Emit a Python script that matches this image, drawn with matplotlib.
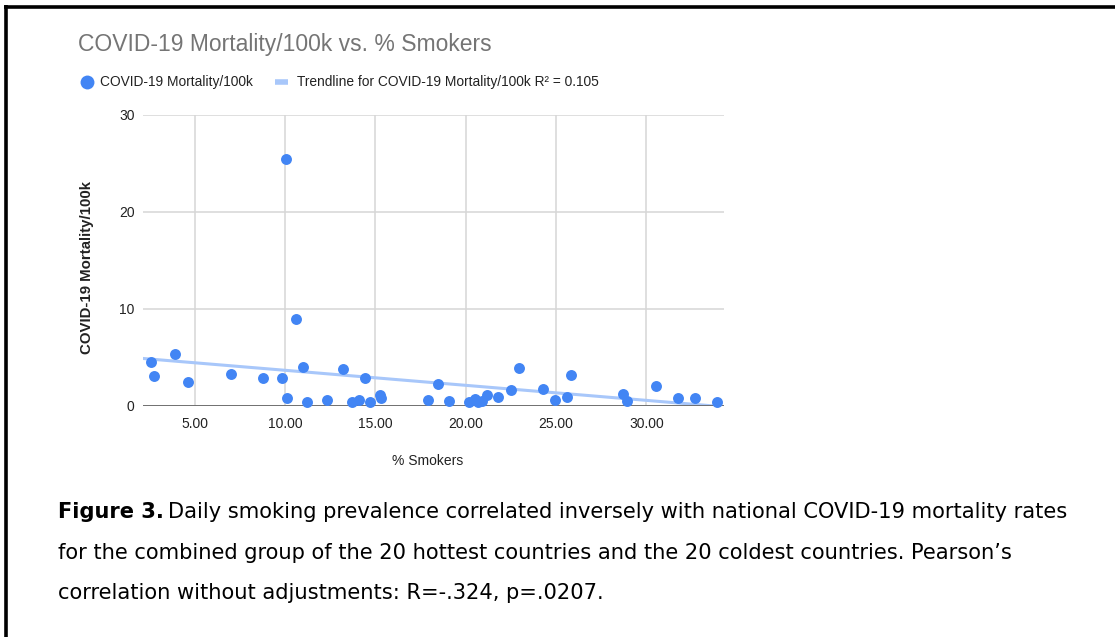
import matplotlib
matplotlib.use("Agg")
import matplotlib.pyplot as plt
from matplotlib.lines import Line2D
import numpy as np

plt.rcParams['font.family'] = ['Liberation Sans', 'DejaVu Sans']

# Data
smokers = [2.56, 2.76, 3.89, 4.65, 7.01, 8.76, 9.83, 10.04, 10.13, 10.59,
           11.01, 11.20, 12.31, 13.23, 13.69, 14.11, 14.43, 14.71, 15.26, 15.30,
           17.92, 18.45, 19.10, 20.17, 20.49, 20.70, 20.88, 21.19, 21.80, 22.50,
           22.94, 24.29, 24.92, 25.59, 25.83, 28.73, 28.92, 30.56, 31.78, 32.68,
           33.94]
mortality = [4.47, 3.06, 5.26, 2.40, 3.26, 2.85, 2.85, 25.4, 0.78, 8.94,
             3.92, 0.31, 0.55, 3.78, 0.31, 0.55, 2.82, 0.41, 1.06, 0.78,
             0.57, 2.22, 0.50, 0.39, 0.64, 0.35, 0.46, 1.05, 0.91, 1.60,
             3.90, 1.70, 0.57, 0.91, 3.15, 1.16, 0.50, 2.04, 0.74, 0.77,
             0.33]
trend_intercept = 5.18
trend_slope = -0.155
x_ticks = [5, 10, 15, 20, 25, 30]
y_ticks = [0, 10, 20, 30]

title = "COVID-19 Mortality/100k vs. % Smokers"
series_name = "COVID-19 Mortality/100k"
trend_name = "Trendline for COVID-19 Mortality/100k R² = 0.105"

W, H = 1115, 637
fig = plt.figure(figsize=(W / 100, H / 100), dpi=100)
fig.patch.set_facecolor('white')

def fx(px):
    return px / W

def fy(py):
    return 1 - py / H

ax_left, ax_right, ax_top, ax_bottom = 143, 724, 114.5, 405.5
ax = fig.add_axes([fx(ax_left), fy(ax_bottom), (ax_right - ax_left) / W, (ax_bottom - ax_top) / H])
ax.set_xlim(2.14, 34.3)
ax.set_ylim(0, 30)

dot_color = '#4285f4'
trend_color = '#a8c7fa'

xs = np.array(ax.get_xlim())
ax.plot(xs, trend_intercept + trend_slope * xs, color=trend_color, lw=2.2, zorder=2, clip_on=True)
ax.scatter(smokers, mortality, s=62, color=dot_color, zorder=3, clip_on=False, linewidths=0)

for s in ax.spines.values():
    s.set_visible(False)
ax.set_xticks(x_ticks)
ax.set_xticklabels([f"{v:.2f}" for v in x_ticks])
ax.set_yticks(y_ticks)
ax.set_yticklabels([str(v) for v in y_ticks])
ax.tick_params(axis='both', length=0, labelsize=10, colors='#222222')
ax.tick_params(axis='x', pad=8)
ax.tick_params(axis='y', pad=6)
ax.grid(True, color='#d6d6d6', lw=1.1)
ax.set_axisbelow(True)
ax.axhline(0, color='#666666', lw=2, zorder=2.5)

# Title and legend
fig.text(fx(78), fy(45), title, fontsize=16.5, color='#757575', va='center', ha='left')
fig.add_artist(Line2D([fx(87)], [fy(82)], marker='o', markersize=10, color=dot_color,
                      markeredgewidth=0, transform=fig.transFigure))
fig.text(fx(100), fy(82), series_name, fontsize=9.9, color='#222222', va='center', ha='left')
fig.add_artist(Line2D([fx(275), fx(288)], [fy(82), fy(82)], color=trend_color, lw=4,
                      transform=fig.transFigure, solid_capstyle='butt'))
fig.text(fx(297), fy(82), trend_name, fontsize=9.9, color='#222222', va='center', ha='left')

# Axis titles
fig.text(fx(428), fy(461), "% Smokers", fontsize=10, color='#222222', ha='center', va='center')
fig.text(fx(87), fy(268), "COVID-19 Mortality/100k", fontsize=10.8, color='#222222',
         ha='center', va='center', rotation=90, fontweight='bold')

# Caption
cap_font = ['DejaVu Sans']
cap_fs = 15.15
t1 = fig.text(fx(58), fy(512), "Figure 3.", fontsize=cap_fs, fontweight='bold', color='black',
              ha='left', va='center', family=cap_font)
fig.canvas.draw()
bb = t1.get_window_extent()
fig.text((bb.x1 + 4) / W, fy(512),
         "Daily smoking prevalence correlated inversely with national COVID-19 mortality rates",
         fontsize=cap_fs, color='black', ha='left', va='center', family=cap_font)
fig.text(fx(58), fy(553),
         "for the combined group of the 20 hottest countries and the 20 coldest countries. Pearson\u2019s",
         fontsize=cap_fs, color='black', ha='left', va='center', family=cap_font)
fig.text(fx(58), fy(593), "correlation without adjustments: R=-.324, p=.0207.",
         fontsize=cap_fs, color='black', ha='left', va='center', family=cap_font)

# Frame lines (top and left)
fig.add_artist(Line2D([fx(4), 1], [fy(6.5), fy(6.5)], color='black', lw=2.6,
                      transform=fig.transFigure, solid_capstyle='butt'))
fig.add_artist(Line2D([fx(5.5), fx(5.5)], [fy(5), 0], color='black', lw=2.6,
                      transform=fig.transFigure, solid_capstyle='butt'))

fig.savefig("out.png", dpi=100, facecolor='white')
